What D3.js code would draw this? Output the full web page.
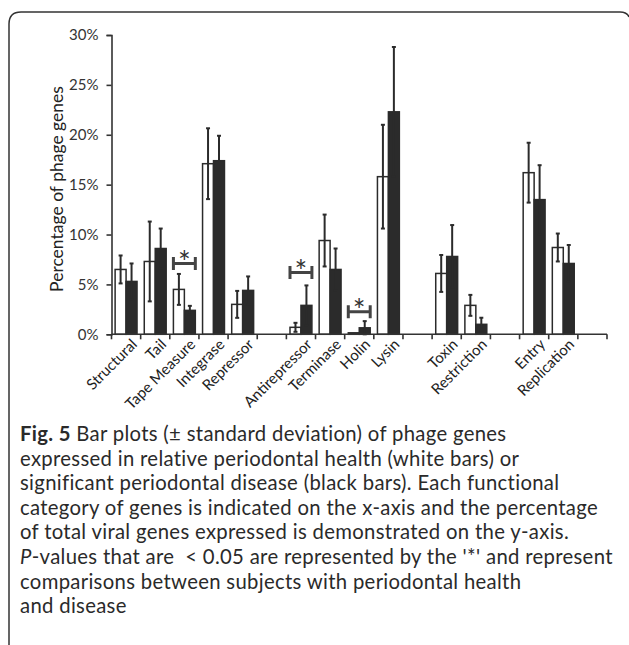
<!DOCTYPE html>
<html>
<head>
<meta charset="utf-8">
<script src="https://cdn.jsdelivr.net/npm/d3@7.9.0/dist/d3.min.js"></script>
<style>
  body { margin: 0; background: #fff; }
  svg { display: block; }
  .tick text { font-family: Lato, "Open Sans", sans-serif; fill: #333; }
</style>
</head>
<body>
<svg id="chart" width="629" height="645"></svg>
<script>
// categories along the x-axis ("" = empty gap slot)
const categories = ['Structural', 'Tail', 'Tape Measure', 'Integrase', 'Repressor', '',
  'Antirepressor', 'Terminase', 'Holin', 'Lysin', '', 'Toxin', 'Restriction', '',
  'Entry', 'Replication', ''];

// relative periodontal health (white bars), % of phage genes
const health   = [6.5, 7.3, 4.5, 17.1, 3.0, null, 0.7, 9.4, 0.15, 15.8, null, 6.1, 2.9, null, 16.2, 8.7, null];
const healthSD = [1.4, 4.0, 1.55, 3.55, 1.35, null, 0.45, 2.6, 0.1, 5.2, null, 1.85, 1.05, null, 3.0, 1.4, null];

// significant periodontal disease (black bars)
const disease   = [5.3, 8.6, 2.4, 17.4, 4.4, null, 2.9, 6.5, 0.65, 22.3, null, 7.8, 1.0, null, 13.5, 7.1, null];
const diseaseSD = [1.8, 2.0, 0.45, 2.5, 1.4, null, 2.0, 2.1, 0.67, 6.5, null, 3.15, 0.66, null, 3.45, 1.85, null];

// significant comparisons (p < 0.05) and the height of their bracket, in %
const sigCats = ['Tape Measure', 'Antirepressor', 'Holin'];
const sigLevel = [7.1, 6.2, 2.25];

const yTicks = [0, 5, 10, 15, 20, 25, 30];

const captionLines = [
  ' Bar plots (\u00b1 standard deviation) of phage genes',
  'expressed in relative periodontal health (white bars) or',
  'significant periodontal disease (black bars). Each functional',
  'category of genes is indicated on the x-axis and the percentage',
  'of total viral genes expressed is demonstrated on the y-axis.',
  '-values that are \u00a0< 0.05 are represented by the \'*\' and represent',
  'comparisons between subjects with periodontal health',
  'and disease'
];

const svg = d3.select('#chart');

// frame round the figure
svg.append('path')
  .attr('d', 'M9,645 L9,24 Q9,12 21,12 L620,12 Q627,12 629,17')
  .attr('fill', 'none')
  .attr('stroke', '#333')
  .attr('stroke-width', 1.5);

const x = d3.scaleBand().domain(d3.range(categories.length)).range([111.5, 607]).padding(0);
const xs = d3.scaleBand().domain(['h', 'd']).range([0, x.bandwidth()]).paddingOuter(0.33).paddingInner(0);
const y = d3.scaleLinear().domain([0, 30]).range([334.3, 35]);

// y axis
const yAxis = svg.append('g')
  .attr('transform', 'translate(111.5,0)')
  .call(d3.axisLeft(y).tickValues(yTicks).tickFormat(d => d + '%').tickSize(5).tickPadding(8));
yAxis.select('.domain').attr('stroke', '#333').attr('stroke-width', 1.6);
yAxis.selectAll('.tick line').attr('stroke', '#333').attr('stroke-width', 1.6);
yAxis.selectAll('.tick text').attr('font-size', 15);

svg.append('text')
  .attr('transform', 'translate(63,189) rotate(-90)')
  .attr('text-anchor', 'middle')
  .attr('font-family', 'Lato, "Open Sans", sans-serif')
  .attr('font-size', 17.5)
  .attr('fill', '#222')
  .text('Percentage of phage genes');

// bars
const rows = [];
categories.forEach((c, i) => {
  if (health[i] != null) rows.push({ i, key: 'h', v: health[i], sd: healthSD[i] });
  if (disease[i] != null) rows.push({ i, key: 'd', v: disease[i], sd: diseaseSD[i] });
});

svg.append('g').selectAll('rect')
  .data(rows)
  .join('rect')
  .attr('x', d => x(d.i) + xs(d.key))
  .attr('width', xs.bandwidth())
  .attr('y', d => y(d.v))
  .attr('height', d => y(0) - y(d.v))
  .attr('fill', d => d.key === 'h' ? '#fff' : '#2b2b2b')
  .attr('stroke', '#2b2b2b')
  .attr('stroke-width', 1.5);

// error bars
const err = svg.append('g').attr('stroke', '#2b2b2b').attr('stroke-width', 2).attr('fill', 'none');
rows.filter(d => d.sd > 0.2).forEach(d => {
  const cx = x(d.i) + xs(d.key) + xs.bandwidth() / 2;
  const lo = Math.max(0, d.v - d.sd), hi = d.v + d.sd;
  err.append('line').attr('x1', cx).attr('x2', cx).attr('y1', y(lo)).attr('y2', y(hi));
  err.append('line').attr('x1', cx - 2).attr('x2', cx + 2).attr('y1', y(hi)).attr('y2', y(hi));
  err.append('line').attr('x1', cx - 2).attr('x2', cx + 2).attr('y1', y(lo)).attr('y2', y(lo));
});

// x axis line with ticks at category boundaries
svg.append('line')
  .attr('x1', x.range()[0]).attr('x2', x.range()[1])
  .attr('y1', y(0)).attr('y2', y(0))
  .attr('stroke', '#333').attr('stroke-width', 1.6);
svg.append('g').selectAll('line')
  .data(d3.range(categories.length + 1))
  .join('line')
  .attr('x1', i => x.range()[0] + i * x.step())
  .attr('x2', i => x.range()[0] + i * x.step())
  .attr('y1', y(0)).attr('y2', y(0) + 5)
  .attr('stroke', '#333').attr('stroke-width', 1.6);

// rotated category labels
svg.append('g').selectAll('text')
  .data(categories.map((c, i) => ({ c, i })).filter(d => d.c))
  .join('text')
  .attr('transform', d => `translate(${x(d.i) + x.bandwidth() / 2 + 12},${y(0) + 11}) rotate(-45)`)
  .attr('text-anchor', 'end')
  .attr('font-family', 'Lato, "Open Sans", sans-serif')
  .attr('font-size', 15)
  .attr('fill', '#222')
  .text(d => d.c);

// significance brackets
const sig = svg.append('g');
sigCats.forEach((c, k) => {
  const i = categories.indexOf(c);
  const x1 = x(i) + xs('h'), x2 = x(i) + xs('d') + xs.bandwidth();
  const yy = y(sigLevel[k]);
  sig.append('path')
    .attr('d', `M${x1},${yy - 6.5}V${yy + 6.5}M${x1},${yy}H${x2}M${x2},${yy - 6.5}V${yy + 6.5}`)
    .attr('stroke', '#444').attr('stroke-width', 3).attr('fill', 'none');
  sig.append('text')
    .attr('x', (x1 + x2) / 2).attr('y', yy + 9.5)
    .attr('text-anchor', 'middle')
    .attr('font-family', 'Lato, sans-serif')
    .attr('font-size', 30)
    .attr('fill', '#333')
    .text('*');
});

// caption
const cap = svg.append('text')
  .attr('font-family', 'Lato, "Open Sans", sans-serif')
  .attr('font-size', 20.3)
  .attr('letter-spacing', 0.32)
  .attr('fill', '#2a2a2a');
captionLines.forEach((line, k) => {
  const t = cap.append('tspan').attr('x', 20).attr('y', 441 + k * 24.6);
  if (k === 0) {
    t.append('tspan').attr('font-weight', 'bold').text('Fig. 5');
  }
  if (k === 5) {
    t.append('tspan').attr('font-style', 'italic').text('P');
  }
  t.append('tspan').text(line);
});
</script>
</body>
</html>
